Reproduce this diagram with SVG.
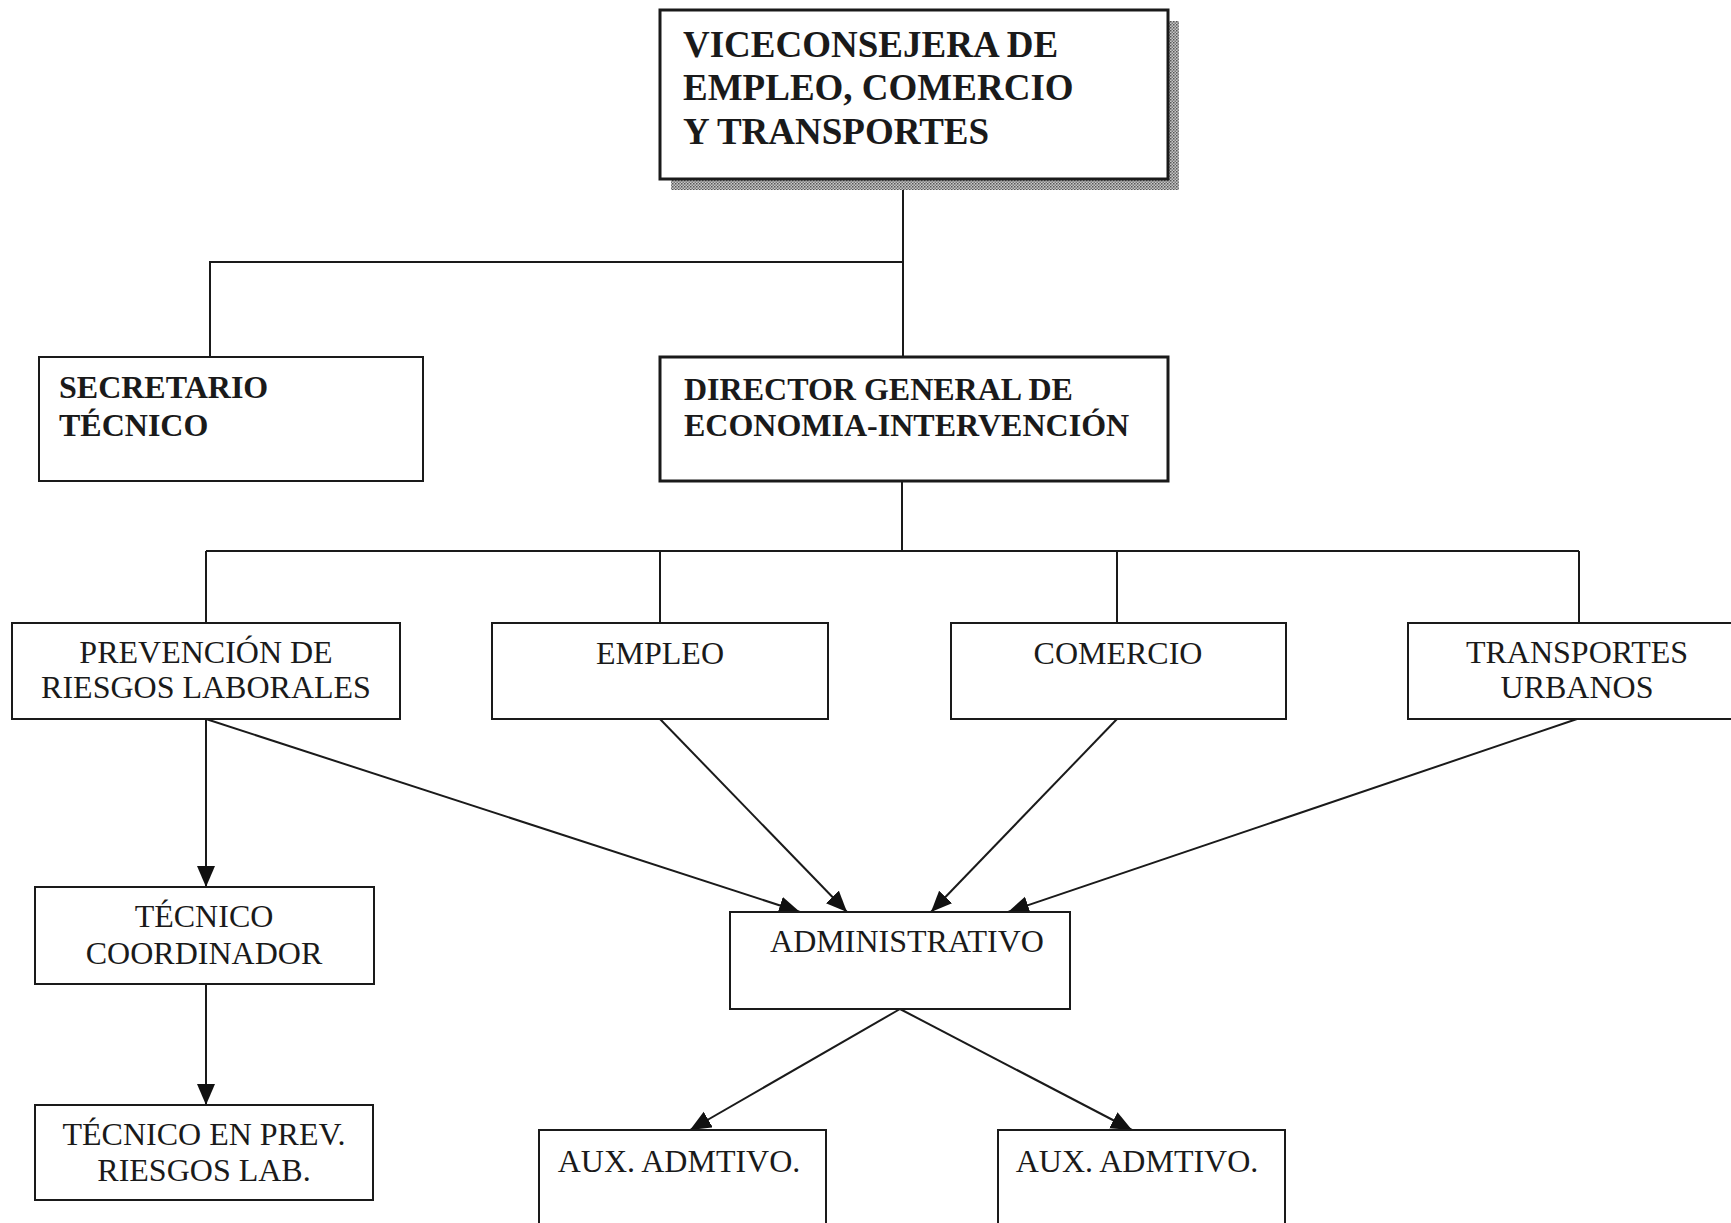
<svg xmlns="http://www.w3.org/2000/svg" width="1731" height="1223" viewBox="0 0 1731 1223">
<style>
  .box { fill: #ffffff; stroke: #1a1a1a; stroke-width: 2; }
  .thick { stroke-width: 3; }
  .lbl { font-family: "Liberation Serif", "Times New Roman", serif; font-size: 32px; fill: #1a1a1a; }
  .bold { font-weight: bold; }
  .mid { text-anchor: middle; }
  .con { fill: none; stroke: #1a1a1a; stroke-width: 2; }
  .arr { marker-end: url(#ah); }
</style>
<defs>
  <pattern id="stip" width="3" height="3" patternUnits="userSpaceOnUse">
    <rect width="3" height="3" fill="#c8c8c8"/>
    <rect width="1.5" height="1.5" fill="#555555"/>
    <rect x="1.5" y="1.5" width="1.5" height="1.5" fill="#777777"/>
  </pattern>
  <marker id="ah" markerUnits="userSpaceOnUse" markerWidth="22" markerHeight="20" refX="21" refY="9" orient="auto">
    <path d="M0,0 L21,9 L0,18 Z" fill="#111111"/>
  </marker>
</defs>
<rect width="1731" height="1223" fill="#ffffff"/>

<g id="connectors">
  <line class="con" x1="903" y1="179" x2="903" y2="357"/>
  <polyline class="con" points="210,357 210,262 903,262"/>
  <line class="con" x1="902" y1="481" x2="902" y2="551"/>
  <line class="con" x1="206" y1="551" x2="1579" y2="551"/>
  <line class="con" x1="206" y1="551" x2="206" y2="623"/>
  <line class="con" x1="660" y1="551" x2="660" y2="623"/>
  <line class="con" x1="1117" y1="551" x2="1117" y2="623"/>
  <line class="con" x1="1579" y1="551" x2="1579" y2="623"/>
  <line class="con arr" x1="206" y1="719" x2="206" y2="887"/>
  <line class="con arr" x1="206" y1="984" x2="206" y2="1105"/>
  <line class="con arr" x1="206" y1="719" x2="800" y2="912"/>
  <line class="con arr" x1="660" y1="719" x2="847" y2="912"/>
  <line class="con arr" x1="1117" y1="719" x2="931" y2="912"/>
  <line class="con arr" x1="1577" y1="719" x2="1008" y2="912"/>
  <line class="con arr" x1="900" y1="1009" x2="690" y2="1130"/>
  <line class="con arr" x1="900" y1="1009" x2="1132" y2="1130"/>
</g>

<g id="viceconsejera">
  <rect x="671" y="21" width="508" height="169" fill="url(#stip)"/>
  <rect class="box thick" x="660" y="10" width="508" height="169"/>
  <text class="lbl bold" x="683" y="57" style="font-size:37px">VICECONSEJERA DE</text>
  <text class="lbl bold" x="683" y="100" style="font-size:37px">EMPLEO, COMERCIO</text>
  <text class="lbl bold" x="683" y="144" style="font-size:37px">Y TRANSPORTES</text>
</g>

<g id="secretario">
  <rect class="box" x="39" y="357" width="384" height="124"/>
  <text class="lbl bold" x="59" y="398">SECRETARIO</text>
  <text class="lbl bold" x="59" y="436">TÉCNICO</text>
</g>

<g id="director">
  <rect class="box thick" x="660" y="357" width="508" height="124"/>
  <text class="lbl bold" x="684" y="400">DIRECTOR GENERAL DE</text>
  <text class="lbl bold" x="684" y="436">ECONOMIA-INTERVENCIÓN</text>
</g>

<g id="prevencion">
  <rect class="box" x="12" y="623" width="388" height="96"/>
  <text class="lbl mid" x="206" y="663">PREVENCIÓN DE</text>
  <text class="lbl mid" x="206" y="698">RIESGOS LABORALES</text>
</g>

<g id="empleo">
  <rect class="box" x="492" y="623" width="336" height="96"/>
  <text class="lbl mid" x="660" y="664">EMPLEO</text>
</g>

<g id="comercio">
  <rect class="box" x="951" y="623" width="335" height="96"/>
  <text class="lbl mid" x="1118" y="664">COMERCIO</text>
</g>

<g id="transportes">
  <rect class="box" x="1408" y="623" width="325" height="96"/>
  <text class="lbl mid" x="1577" y="663">TRANSPORTES</text>
  <text class="lbl mid" x="1577" y="698">URBANOS</text>
</g>

<g id="tecnico-coordinador">
  <rect class="box" x="35" y="887" width="339" height="97"/>
  <text class="lbl mid" x="204" y="927">TÉCNICO</text>
  <text class="lbl mid" x="204" y="964">COORDINADOR</text>
</g>

<g id="tecnico-prev">
  <rect class="box" x="35" y="1105" width="338" height="95"/>
  <text class="lbl mid" x="204" y="1145">TÉCNICO EN PREV.</text>
  <text class="lbl mid" x="204" y="1181">RIESGOS LAB.</text>
</g>

<g id="administrativo">
  <rect class="box" x="730" y="912" width="340" height="97"/>
  <text class="lbl mid" x="907" y="952">ADMINISTRATIVO</text>
</g>

<g id="aux1">
  <rect class="box" x="539" y="1130" width="287" height="110"/>
  <text class="lbl mid" x="679" y="1172">AUX. ADMTIVO.</text>
</g>

<g id="aux2">
  <rect class="box" x="998" y="1130" width="287" height="110"/>
  <text class="lbl mid" x="1137" y="1172">AUX. ADMTIVO.</text>
</g>
</svg>
